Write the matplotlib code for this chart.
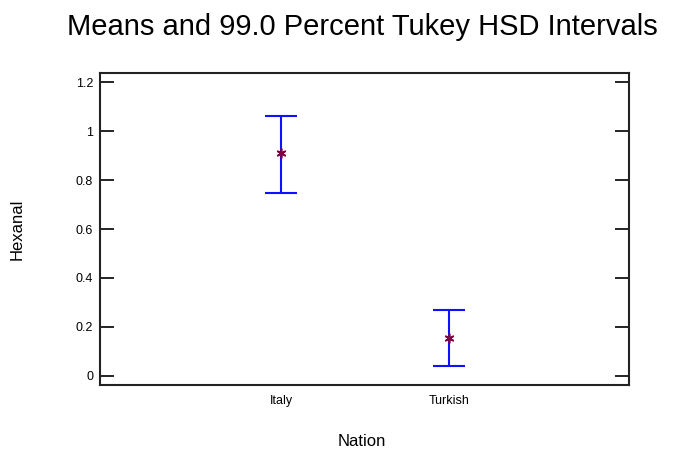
import matplotlib
matplotlib.use("Agg")
import matplotlib.pyplot as plt

# Tukey HSD intervals
nations = ["Italy", "Turkish"]
means = [0.909, 0.156]
lower = [0.748, 0.042]
upper = [1.062, 0.271]
y_ticks = [0, 0.2, 0.4, 0.6, 0.8, 1.0, 1.2]
y_tick_labels = ["0", "0.2", "0.4", "0.6", "0.8", "1", "1.2"]

plt.rcParams['font.family'] = ['Liberation Sans', 'DejaVu Sans']

fig = plt.figure(figsize=(6.94, 4.54), dpi=100)
ax = fig.add_axes([100 / 694, 1 - 385 / 454, 529 / 694, 312 / 454])

x = [1, 2]
err_low = [m - lo for m, lo in zip(means, lower)]
err_high = [hi - m for m, hi in zip(means, upper)]
ax.errorbar(x, means, yerr=[err_low, err_high], fmt="none", ecolor="#1010ff",
            elinewidth=1.5, capsize=11.5, capthick=1.5)
ax.plot(x, means, linestyle="none", marker=(6, 2, 0), markersize=7,
        color="#800040", markeredgewidth=1.2)

ax.set_xlim(1 - 181 / 168, 2 + 180 / 168)
ax.set_ylim(-0.037, 1.237)
ax.set_xticks(x)
ax.set_xticklabels(nations, fontsize=9)
ax.set_yticks(y_ticks)
ax.set_yticklabels(y_tick_labels, fontsize=9)
ax.tick_params(axis="x", length=0, pad=7)
ax.tick_params(axis="y", direction="in", length=10, width=1.2, right=True, pad=5)
for s in ax.spines.values():
    s.set_linewidth(1.5)
    s.set_color("#222222")

# axis titles and chart title placed in figure pixels
fig.text(362 / 694, 1 - 442 / 454, "Nation", ha="center", va="center", fontsize=12)
fig.text(17 / 694, 1 - 229 / 454, "Hexanal", ha="center", va="center",
         rotation=90, fontsize=12)
fig.text(362 / 694, 1 - 27 / 454, "Means and 99.0 Percent Tukey HSD Intervals",
         ha="center", va="center", fontsize=21)

fig.savefig("out.png", dpi=100)
